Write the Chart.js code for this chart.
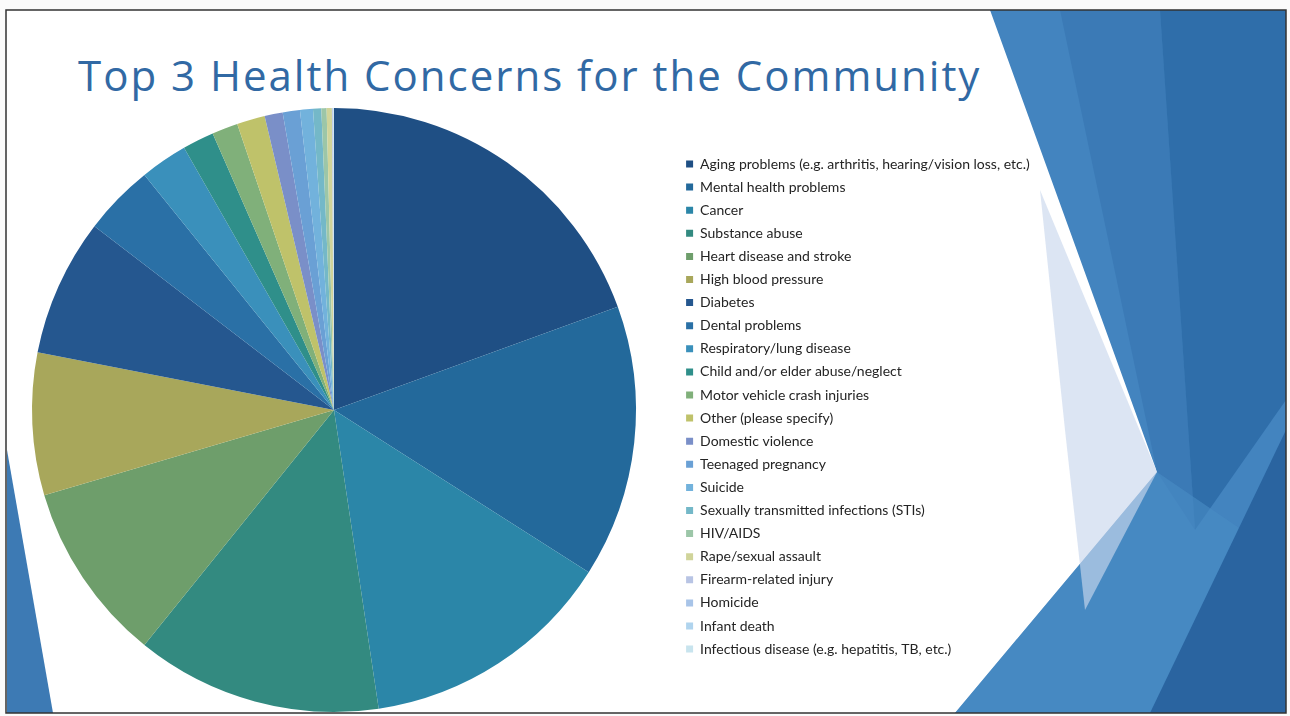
<!DOCTYPE html>
<html>
<head>
<meta charset="utf-8">
<script src="https://cdn.jsdelivr.net/npm/chart.js@4.4.1/dist/chart.umd.min.js"></script>
<style>
    html, body { margin: 0; padding: 0; width: 1290px; height: 716px; overflow: hidden; background: #fbfbfb; }
    #bg { position: absolute; left: 0; top: 0; }
    #title { position: absolute; left: 78px; top: 46px; font-family: "Open Sans"; font-size: 42px; letter-spacing: 2px; color: #3169a4; white-space: nowrap; }
    #wrap { position: absolute; left: -40px; top: 0; width: 1330px; height: 716px; }
</style>
</head>
<body>
<svg id="bg" width="1290" height="716">
    <rect x="6" y="10" width="1280" height="703" fill="#ffffff"/>
    <polygon points="990,10 1286,10 1286,713 955,713 1157,472" fill="#4384bf"/>
    <polygon points="1060,10 1160,10 1195,530 1157,472" fill="#3b7ab6"/>
    <polygon points="1160,10 1286,10 1286,400 1195,530" fill="#2f6eaa"/>
    <polygon points="955,713 1157,472 1286,560 1286,713" fill="#4a8cc5" opacity="0.6"/>
    <polygon points="1040,190 1157,472 1085,610 1065,430" fill="#c9d7ec" opacity="0.65"/>
    <polygon points="1150,713 1286,430 1286,713" fill="#2a64a0"/>
    <polygon points="7,450 53,713 7,713" fill="#3d7ab4"/>
    <rect x="6" y="10" width="1280" height="703" fill="none" stroke="#333" stroke-width="1.5"/>
</svg>
<div id="title">Top 3 Health Concerns for the Community</div>
<div id="wrap"><canvas id="pie" width="1330" height="716"></canvas></div>
<script>
// Categorias e percentuais
const categories = [
    'Aging problems (e.g. arthritis, hearing/vision loss, etc.)',
    'Mental health problems',
    'Cancer',
    'Substance abuse',
    'Heart disease and stroke',
    'High blood pressure',
    'Diabetes',
    'Dental problems',
    'Respiratory/lung disease',
    'Child and/or elder abuse/neglect',
    'Motor vehicle crash injuries',
    'Other (please specify)',
    'Domestic violence',
    'Teenaged pregnancy',
    'Suicide',
    'Sexually transmitted infections (STIs)',
    'HIV/AIDS',
    'Rape/sexual assault',
    'Firearm-related injury',
    'Homicide',
    'Infant death',
    'Infectious disease (e.g. hepatitis, TB, etc.)'
];
const shares = [19.44, 14.58, 13.61, 13.17, 9.64, 7.61, 7.36, 3.78, 2.53, 1.69, 1.39, 1.5, 0.97, 0.92, 0.69, 0.44, 0.28, 0.28, 0.04, 0.03, 0.02, 0.02];
const sliceColors = [
    '#1f4f84', '#23699b', '#2b86a8', '#338a80', '#6e9e6b', '#a8a75b',
    '#25578f', '#2a70a6', '#3a90bb', '#2f8f8a', '#80b07a', '#bfc26a',
    '#7a8fc8', '#6aa0d5', '#72b2dc', '#74b8c8', '#9cc6a8', '#d0d49a',
    '#b8c4e4', '#a8c4e8', '#b0d4ee', '#c8e4ee'
];

// Posição da legenda e do centro da pizza (coordenadas do canvas)
const legendFont = { family: 'Lato', size: 14 };
const legendPad = 9.1;
const boxSize = 7;
const legendLeft = 717;

const measure = document.createElement('canvas').getContext('2d');
measure.font = legendFont.size + 'px ' + legendFont.family;
const longest = Math.max(...categories.map(t => measure.measureText(t).width));
const legendWidth = legendPad + boxSize + legendFont.size / 2 + longest + 10;
const padTop = 164 - legendFont.size / 2 - legendPad;

const ctx = document.getElementById('pie').getContext('2d');
new Chart(ctx, {
    type: 'pie',
    data: {
        labels: categories,
        datasets: [{
            data: shares,
            backgroundColor: sliceColors,
            borderWidth: 0,
            clip: false
        }]
    },
    options: {
        responsive: false,
        animation: false,
        radius: 302,
        layout: {
            padding: {
                left: 31,
                right: 1330 - legendLeft - legendWidth,
                top: padTop,
                bottom: 716 - (820 - padTop)
            }
        },
        plugins: {
            tooltip: { enabled: false },
            legend: {
                position: 'right',
                align: 'start',
                labels: {
                    font: legendFont,
                    color: '#242424',
                    boxWidth: boxSize,
                    boxHeight: boxSize,
                    padding: legendPad
                }
            }
        }
    }
});
</script>
</body>
</html>
